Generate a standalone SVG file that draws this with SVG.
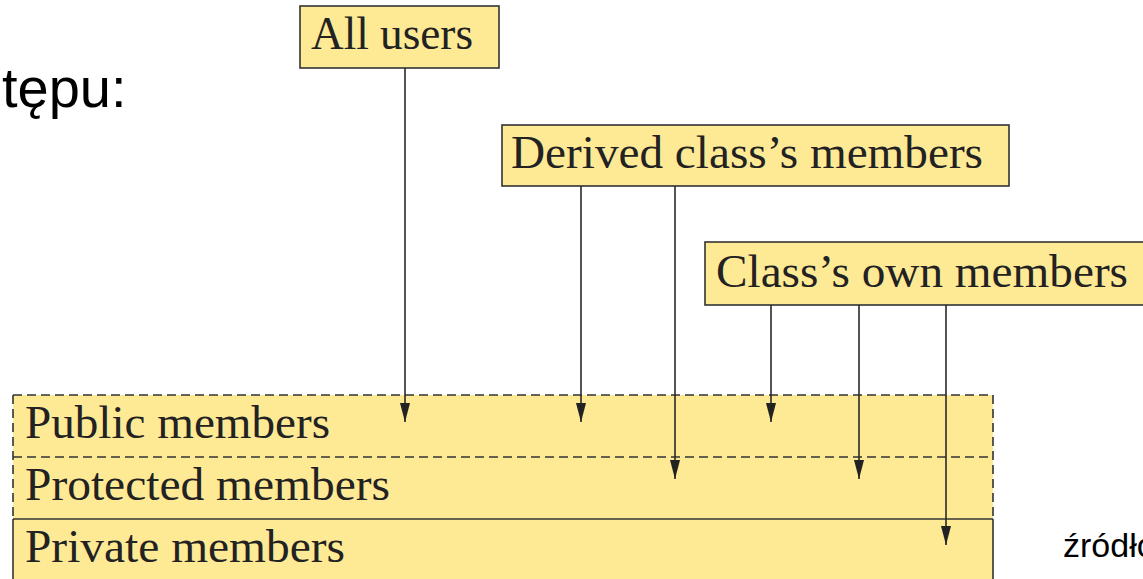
<svg xmlns="http://www.w3.org/2000/svg" width="1143" height="579" viewBox="0 0 1143 579">
  <style>
    .box { fill: #FEE995; stroke: #333; stroke-width: 1.6; }
    .lbl { font-family: "Liberation Serif", "Times New Roman", serif; font-size: 47px; fill: #222; }
    .sans { font-family: "Liberation Sans", Arial, sans-serif; fill: #000; }
    .conn { stroke: #2a2a2a; stroke-width: 1.6; fill: none; marker-end: url(#ah); }
    .dash { stroke: #333; stroke-width: 1.6; stroke-dasharray: 9 5; fill: none; }
    .solid { stroke: #333; stroke-width: 1.6; fill: none; }
  </style>
  <defs>
    <marker id="ah" viewBox="0 0 19 10" refX="19" refY="5" markerWidth="19" markerHeight="10" markerUnits="userSpaceOnUse" orient="auto">
      <path d="M0,0 L19,5 L0,10 Z" fill="#222"/>
    </marker>
  </defs>

  <text class="sans" x="2" y="107" font-size="56">tępu:</text>

  <g id="members-area">
    <rect x="13" y="395" width="980" height="190" fill="#FEE995" stroke="none"/>
    <line class="dash" x1="13" y1="395" x2="993" y2="395"/>
    <line class="dash" x1="13" y1="457" x2="993" y2="457"/>
    <line class="solid" x1="13" y1="519" x2="993" y2="519"/>
    <line class="dash" x1="13" y1="395" x2="13" y2="519"/>
    <line class="dash" x1="993" y1="395" x2="993" y2="519"/>
    <line class="solid" x1="13" y1="519" x2="13" y2="579"/>
    <line class="solid" x1="993" y1="519" x2="993" y2="579"/>
    <text class="lbl" x="25" y="438" textLength="305" lengthAdjust="spacingAndGlyphs">Public members</text>
    <text class="lbl" x="25" y="500" textLength="365" lengthAdjust="spacingAndGlyphs">Protected members</text>
    <text class="lbl" x="25" y="562" textLength="320" lengthAdjust="spacingAndGlyphs">Private members</text>
  </g>

  <g id="all-users">
    <rect class="box" x="300" y="6" width="199" height="62"/>
    <text class="lbl" x="311" y="49" textLength="162" lengthAdjust="spacingAndGlyphs">All users</text>
  </g>

  <g id="derived">
    <rect class="box" x="502" y="125" width="507" height="61"/>
    <text class="lbl" x="511" y="168" textLength="472" lengthAdjust="spacingAndGlyphs">Derived class’s members</text>
  </g>

  <g id="own">
    <rect class="box" x="705" y="242" width="460" height="63"/>
    <text class="lbl" x="716" y="287" textLength="412" lengthAdjust="spacingAndGlyphs">Class’s own members</text>
  </g>

  <g id="connectors">
    <line class="conn" x1="405" y1="68" x2="405" y2="422"/>
    <line class="conn" x1="581" y1="186" x2="581" y2="422"/>
    <line class="conn" x1="675" y1="186" x2="675" y2="479"/>
    <line class="conn" x1="771" y1="305" x2="771" y2="422"/>
    <line class="conn" x1="859" y1="305" x2="859" y2="479"/>
    <line class="conn" x1="946" y1="305" x2="946" y2="545"/>
  </g>

  <text class="sans" x="1063" y="557" font-size="34">źródło</text>
</svg>
